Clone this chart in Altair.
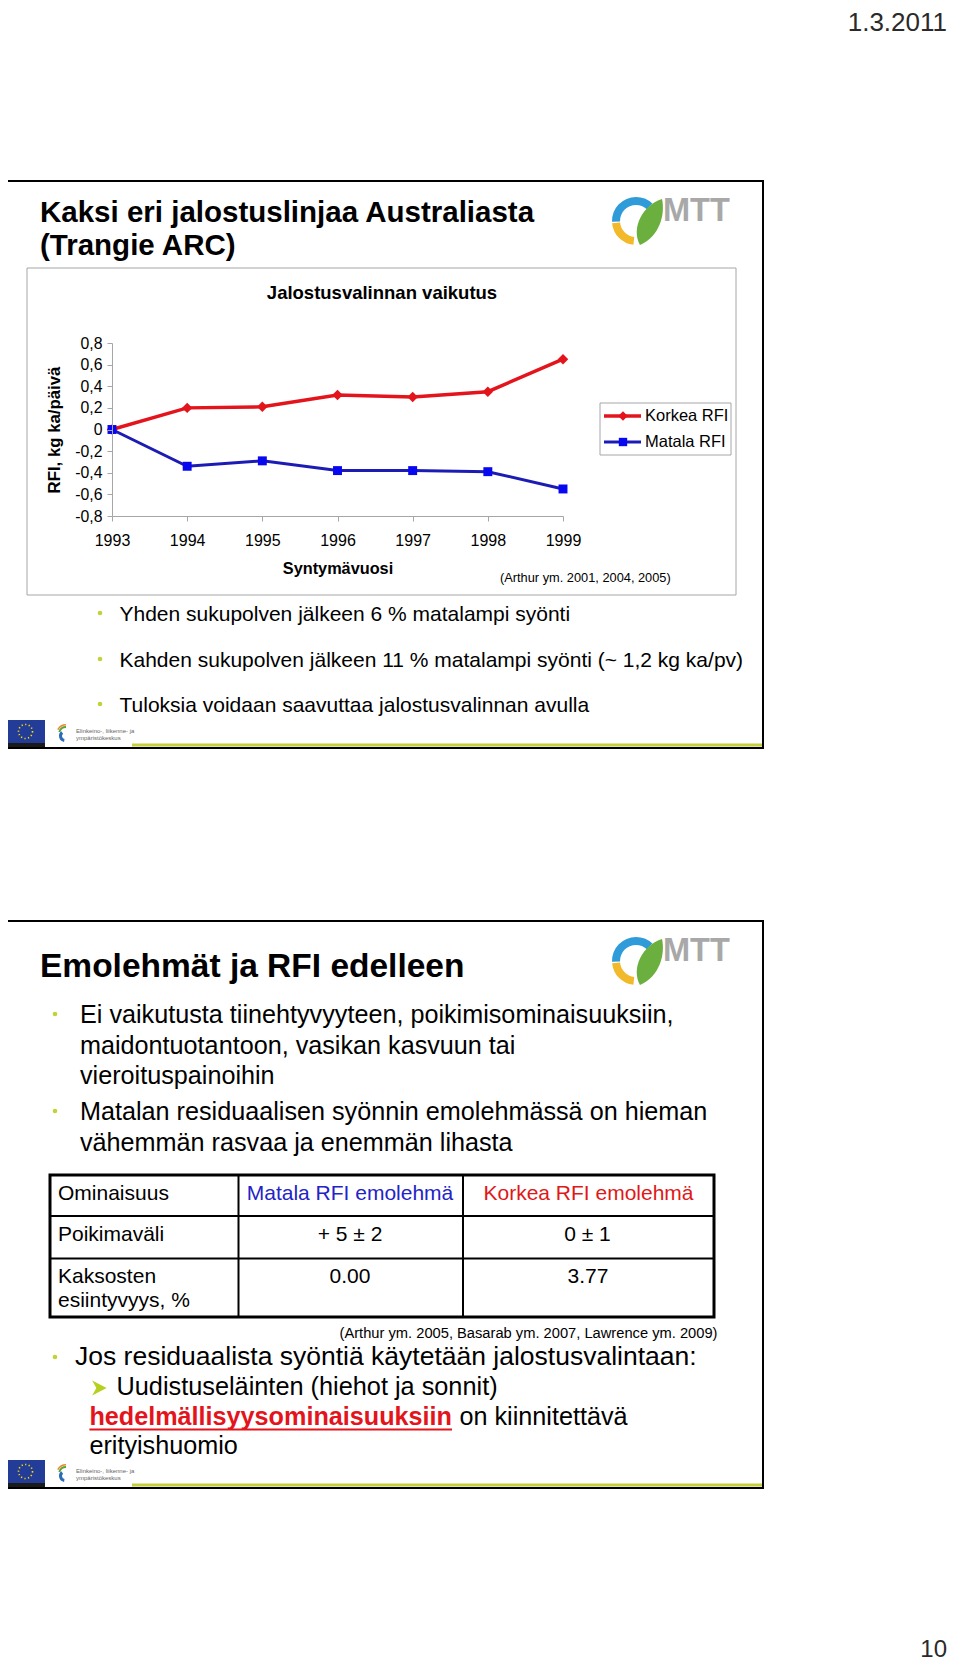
import altair as alt
import pandas as pd

# ---------------- data ----------------
years = [1993, 1994, 1995, 1996, 1997, 1998, 1999]
korkea_rfi = [0.0, 0.20, 0.21, 0.32, 0.30, 0.35, 0.65]
matala_rfi = [0.0, -0.34, -0.29, -0.38, -0.38, -0.39, -0.55]
y_ticks = [-0.8, -0.6, -0.4, -0.2, 0.0, 0.2, 0.4, 0.6, 0.8]
series_names = ["Korkea RFI", "Matala RFI"]

slide1_bullets = [
    "Yhden sukupolven jälkeen 6 % matalampi syönti",
    "Kahden sukupolven jälkeen 11 % matalampi syönti (~ 1,2 kg ka/pv)",
    "Tuloksia voidaan saavuttaa jalostusvalinnan avulla",
]
slide2_lines = [
    "Ei vaikutusta tiinehtyvyyteen, poikimisominaisuuksiin,",
    "maidontuotantoon, vasikan kasvuun tai",
    "vieroituspainoihin",
    "Matalan residuaalisen syönnin emolehmässä on hieman",
    "vähemmän rasvaa ja enemmän lihasta",
]
table_header = ["Ominaisuus", "Matala RFI emolehmä", "Korkea RFI emolehmä"]
table_row1 = ["Poikimaväli", "+ 5 ± 2", "0 ± 1"]
table_row2 = ["Kaksosten", "0.00", "3.77"]
table_row2b = "esiintyvyys, %"

# ---------------- layout constants ----------------
W, H = 944, 1656
OX, OY = 8, 8
FONT = "Liberation Sans"
RED = "#E3141B"
BLUE_LINE = "#1C1CB4"
BLUE_MARK = "#0808F0"
BULLET = "#C4D23A"
GREY = "#A6A6A6"
GREEN_LINE = "#C6CE3A"

D = pd.DataFrame({"k": [0]})


def T(s, x, y, size, color="black", bold=False, align="left",
      baseline="alphabetic", angle=0, font=FONT):
    return alt.Chart(D).mark_text(
        text=s, align=align, baseline=baseline, fontSize=size,
        fontWeight="bold" if bold else "normal", color=color, font=font,
        angle=angle,
    ).encode(x=alt.value(x - OX), y=alt.value(y - OY))


def R(x1, y1, x2, y2, stroke=None, sw=1, fill=None):
    kw = {}
    if fill is not None:
        kw["fill"] = fill
    else:
        kw["fillOpacity"] = 0
    if stroke is not None:
        kw["stroke"] = stroke
        kw["strokeWidth"] = sw
    return alt.Chart(D).mark_rect(**kw).encode(
        x=alt.value(x1 - OX), x2=alt.value(x2 - OX),
        y=alt.value(y1 - OY), y2=alt.value(y2 - OY))


def HR(x1, x2, y, color, sw):
    return alt.Chart(D).mark_rule(color=color, strokeWidth=sw).encode(
        x=alt.value(x1 - OX), x2=alt.value(x2 - OX), y=alt.value(y - OY))


def VR(x, y1, y2, color, sw):
    return alt.Chart(D).mark_rule(color=color, strokeWidth=sw).encode(
        x=alt.value(x - OX), y=alt.value(y1 - OY), y2=alt.value(y2 - OY))


def P(x, y, shape, size, color, filled=True, **kw):
    return alt.Chart(D).mark_point(shape=shape, size=size, filled=filled,
                                   color=color, opacity=1, **kw).encode(
        x=alt.value(x - OX), y=alt.value(y - OY))


def ARC(cx, cy, r1, r2, t1, t2, color):
    return alt.Chart(D).mark_arc(radius=r2, radius2=r1, theta=t1, theta2=t2,
                                 color=color).encode(
        x=alt.value(cx - OX), y=alt.value(cy - OY))


LEAF = "M-0.46,0.96 C-0.85,0.25 -0.35,-0.7 0.46,-0.96 C0.6,-0.3 0.35,0.6 -0.46,0.96 Z"
ARROW = "M-0.9,-1 L1,0 L-0.9,1 L-0.35,0 Z"


def mtt_logo(dy):
    cx, cy = 636, 221 + dy
    return [
        ARC(cx, cy, 16, 24, 4.68, 6.2832, "#2F9BD8"),
        ARC(cx, cy, 16, 24, 0.0, 0.75, "#2F9BD8"),
        ARC(cx, cy, 16, 24, 3.25, 4.62, "#F2B92B"),
        P(651, 222 + dy, LEAF, 2304, "#6BB03F"),
        T("MTT", 663, 221 + dy, 32.5, color="#A8A8A8", bold=True),
    ]


def footer(dy):
    return [
        R(6, 720 + dy, 45, 743 + dy, fill="#233C97"),
        R(6, 743 + dy, 45, 747 + dy, fill="#1A1A1A"),
        P(25.5, 731.5 + dy, "circle", 196, "#FFDD00", filled=False,
          strokeDash=[1.2, 2.4], strokeWidth=1.6),
        ARC(65, 736 + dy, 3, 6, 3.3, 5.6, "#2A6DB5"),
        ARC(66, 734 + dy, 6, 8, 5.0, 6.2832, "#5BA33C"),
        ARC(66, 734 + dy, 8.5, 10, 5.2, 6.2832, "#E58A2B"),
        T("Elinkeino-, liikenne- ja", 76, 733 + dy, 6, color="#666666"),
        T("ympäristökeskus", 76, 740 + dy, 6, color="#666666"),
        R(132, 743.5 + dy, 762, 746.5 + dy, fill=GREEN_LINE),
    ]


layers = []

# page header / number
layers.append(T("1.3.2011", 947, 31, 26, color="#2A2A2A", align="right"))
layers.append(T("10", 947, 1657, 24, color="#2A2A2A", align="right"))

# ---------------- slide 1 ----------------
layers.append(R(6, 181, 763, 748, stroke="black", sw=2, fill="white"))
layers.append(T("Kaksi eri jalostuslinjaa Australiasta", 40, 222, 29.5, bold=True))
layers.append(T("(Trangie ARC)", 40, 255, 29.5, bold=True))
layers += mtt_logo(0)
layers.append(R(27, 268, 736, 595, stroke=GREY, sw=1))
layers.append(T("Jalostusvalinnan vaikutus", 382, 298.5, 18.5, bold=True, align="center"))
layers.append(T("RFI, kg ka/päivä", 60, 430, 16.8, bold=True, align="center",
                baseline="alphabetic", angle=270))
layers.append(T("Syntymävuosi", 338, 574, 16.3, bold=True, align="center"))
layers.append(T("(Arthur ym. 2001, 2004, 2005)", 500, 582, 12.8))

# legend
layers.append(R(600, 403, 731, 455, stroke=GREY, sw=1))
layers.append(HR(604, 641, 416, RED, 3.5))
layers.append(P(623, 416, "diamond", 90, RED))
layers.append(T(series_names[0], 645, 416, 16.5, baseline="middle"))
layers.append(HR(604, 641, 442, BLUE_LINE, 3))
layers.append(P(623, 442, "square", 70, BLUE_MARK))
layers.append(T(series_names[1], 645, 442, 16.5, baseline="middle"))

# chart
df = pd.DataFrame({
    "year": years + years,
    "value": korkea_rfi + matala_rfi,
    "series": [series_names[0]] * len(years) + [series_names[1]] * len(years),
})
xs = alt.Scale(domain=[1993, 1999], range=[112 - OX, 563 - OX], nice=False, zero=False)
ys = alt.Scale(domain=[-0.8, 0.8], range=[516 - OY, 343 - OY], nice=False, zero=False)
xaxis = alt.Axis(values=years, format="d", title=None, grid=False, zindex=2,
                 offset=(516 - OY) - H, tickSize=5, labelPadding=11,
                 domainColor=GREY, tickColor=GREY, labelColor="black",
                 labelFont=FONT, labelFontSize=16, labelFlush=False,
                 labelOverlap=False)
yaxis = alt.Axis(values=y_ticks, title=None, grid=False, zindex=2,
                 offset=-(112 - OX), tickSize=5, labelPadding=5,
                 domainColor=GREY, tickColor=GREY, labelColor="black",
                 labelFont=FONT, labelFontSize=15.8, labelOverlap=False,
                 labelExpr="abs(datum.value) < 0.001 ? '0' : (datum.value < 0 ? '-' : '') + replace(format(abs(datum.value), '.1f'), '.', ',')")
X = alt.X("year:Q", scale=xs, axis=xaxis)
Y = alt.Y("value:Q", scale=ys, axis=yaxis)

dk = df[df.series == series_names[0]]
dm = df[df.series == series_names[1]]
layers.append(alt.Chart(dk).mark_line(color=RED, strokeWidth=3.5).encode(x=X, y=Y))
layers.append(alt.Chart(dk).mark_point(shape="diamond", filled=True, size=110,
                                       color=RED, opacity=1).encode(x=X, y=Y))
layers.append(alt.Chart(dm).mark_line(color=BLUE_LINE, strokeWidth=3).encode(x=X, y=Y))
layers.append(alt.Chart(dm).mark_point(shape="square", filled=True, size=80,
                                       color=BLUE_MARK, opacity=1).encode(x=X, y=Y))

# bullets slide 1
for s, b in zip(slide1_bullets, [621, 667, 712]):
    layers.append(P(100, b - 8, "circle", 22, BULLET))
    layers.append(T(s, 119.5, b, 21))
layers += footer(0)

# ---------------- slide 2 ----------------
layers.append(R(6, 921, 763, 1488, stroke="black", sw=2, fill="white"))
layers.append(T("Emolehmät ja RFI edelleen", 40, 977, 33.5, bold=True))
layers += mtt_logo(740)
for s, b in zip(slide2_lines, [1023, 1054, 1084, 1120, 1151]):
    layers.append(T(s, 80, b, 25.2))
layers.append(P(55, 1023 - 9, "circle", 22, BULLET))
layers.append(P(55, 1120 - 9, "circle", 22, BULLET))

# table
layers.append(R(50, 1175, 714, 1317, stroke="black", sw=3))
layers.append(HR(50, 714, 1216, "black", 2))
layers.append(HR(50, 714, 1258.5, "black", 2))
layers.append(VR(238.5, 1175, 1317, "black", 2))
layers.append(VR(463, 1175, 1317, "black", 2))
layers.append(T(table_header[0], 58, 1200, 21))
layers.append(T(table_header[1], 350, 1200, 21, color="#2323C8", align="center"))
layers.append(T(table_header[2], 588.5, 1200, 21, color="#E01818", align="center"))
layers.append(T(table_row1[0], 58, 1241, 21))
layers.append(T(table_row1[1], 350, 1241, 21, align="center"))
layers.append(T(table_row1[2], 587.5, 1241, 21, align="center"))
layers.append(T(table_row2[0], 58, 1283, 21))
layers.append(T(table_row2b, 58, 1307, 21))
layers.append(T(table_row2[1], 350, 1283, 21, align="center"))
layers.append(T(table_row2[2], 588, 1283, 21, align="center"))
layers.append(T("(Arthur ym. 2005, Basarab ym. 2007, Lawrence ym. 2009)", 717.5, 1338, 14.7,
                align="right"))

layers.append(P(55, 1357, "circle", 22, BULLET))
layers.append(T("Jos residuaalista syöntiä käytetään jalostusvalintaan:", 75, 1365, 26.5))
layers.append(P(99, 1388, ARROW, 230, "#B7CF1E"))
layers.append(T("Uudistuseläinten (hiehot ja sonnit)", 116.5, 1395, 25.3))
layers.append(T("hedelmällisyysominaisuuksiin", 89.4, 1425, 25.2, color="#E3141B", bold=True))
layers.append(HR(89.4, 452, 1429.5, "#E3141B", 2))
layers.append(T("on kiinnitettävä", 459.5, 1425, 25.2))
layers.append(T("erityishuomio", 89.4, 1454, 25.2))
layers += footer(740)

chart = alt.layer(*layers).properties(
    width=W, height=H, padding=0,
    autosize=alt.AutoSizeParams(type="none"),
    background="white",
).configure_view(stroke=None)

chart.save("out.html", embed_options={"renderer": "svg", "actions": False})
